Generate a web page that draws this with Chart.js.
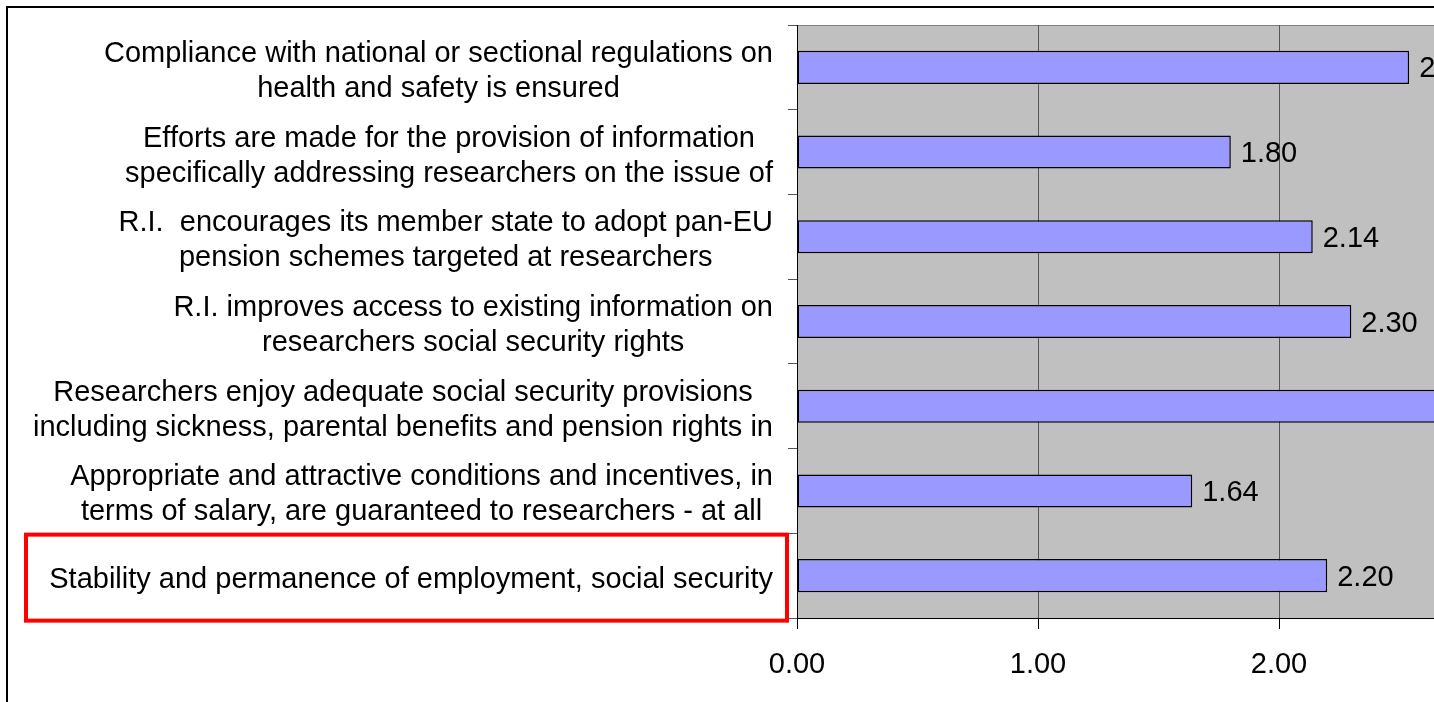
<!DOCTYPE html>
<html>
<head>
<meta charset="utf-8">
<script src="https://cdn.jsdelivr.net/npm/chart.js@4/dist/chart.umd.min.js"></script>
<style>
  body { margin: 0; background: #fff; overflow: hidden; }
  .frame { position: absolute; left: 6px; top: 6px; width: 1700px; height: 900px; border: 2px solid #000; }
  #barChart { position: absolute; left: 0; top: 0; }
</style>
</head>
<body>
<div class="frame"></div>
<canvas id="barChart" width="1600" height="702"></canvas>
<script>
//category labels, already wrapped into lines
const labels = [
  ["Compliance with national or sectional regulations on", "health and safety is ensured"],
  ["Efforts are made for the provision of information", "specifically addressing researchers on the issue of"],
  ["R.I.  encourages its member state to adopt pan-EU", "pension schemes targeted at researchers"],
  ["R.I. improves access to existing information on", "researchers social security rights"],
  ["Researchers enjoy adequate social security provisions", "including sickness, parental benefits and pension rights in"],
  ["Appropriate and attractive conditions and incentives, in", "terms of salary, are guaranteed to researchers - at all"],
  ["Stability and permanence of employment, social security"],
];

//average score per item
const values = [2.54, 1.80, 2.14, 2.30, 2.80, 1.64, 2.20];

//x axis ticks
const xTicks = [0, 1, 2, 3];

const fontFamily = "'Liberation Sans', Arial, sans-serif";

//grey plot area behind the bars
const plotBackground = {
  id: "plotBackground",
  beforeDraw(chart) {
    const { ctx, chartArea: a } = chart;
    ctx.save();
    ctx.fillStyle = "#c0c0c0";
    ctx.fillRect(a.left, a.top, a.right - a.left, a.bottom - a.top);
    ctx.strokeStyle = "#808080";
    ctx.lineWidth = 1;
    ctx.strokeRect(a.left + 0.5, a.top + 0.5, a.right - a.left, a.bottom - a.top);
    ctx.restore();
  },
};

//category labels: each block right aligned, lines centred inside it
const categoryLabels = {
  id: "categoryLabels",
  afterDraw(chart) {
    const { ctx } = chart;
    const y = chart.scales.y;
    const right = 773;
    const lineHeight = 35;
    ctx.save();
    ctx.font = "29px " + fontFamily;
    ctx.fillStyle = "#000";
    ctx.textAlign = "center";
    ctx.textBaseline = "middle";
    labels.forEach(function (lines, i) {
      let widest = 0;
      for (const line of lines) widest = Math.max(widest, ctx.measureText(line).width);
      const cx = right - widest / 2;
      const cy = y.getPixelForValue(i) + 4 - ((lines.length - 1) * lineHeight) / 2;
      lines.forEach(function (line, j) {
        ctx.fillText(line, cx, cy + j * lineHeight);
      });
    });
    ctx.restore();
  },
};

//value printed right of each bar
const valueLabels = {
  id: "valueLabels",
  afterDatasetsDraw(chart) {
    const { ctx } = chart;
    const meta = chart.getDatasetMeta(0);
    ctx.save();
    ctx.font = "29px " + fontFamily;
    ctx.fillStyle = "#000";
    ctx.textAlign = "left";
    ctx.textBaseline = "middle";
    meta.data.forEach(function (bar, i) {
      ctx.fillText(values[i].toFixed(2), bar.x + 10, bar.y + 2);
    });
    ctx.restore();
  },
};

//red frame round the last item
const highlight = {
  id: "highlight",
  afterDraw(chart) {
    const { ctx } = chart;
    const y = chart.scales.y;
    const mid = y.getPixelForValue(labels.length - 1);
    ctx.save();
    ctx.strokeStyle = "#ff0000";
    ctx.lineWidth = 4;
    ctx.strokeRect(26, mid - 41, 761, 86);
    ctx.restore();
  },
};

const bar = document.getElementById("barChart");
const barChart = new Chart(bar, {
  type: "bar",
  data: {
    labels: labels,
    datasets: [
      {
        data: values,
        backgroundColor: "#9999ff",
        borderColor: "#000",
        borderWidth: 1.5,
        borderSkipped: false,
        categoryPercentage: 1,
        barPercentage: 0.39,
      },
    ],
  },
  options: {
    indexAxis: "y",
    responsive: false,
    animation: false,
    devicePixelRatio: 1,
    layout: { padding: { top: 25, right: 80, bottom: 0, left: 0 } },
    plugins: {
      legend: { display: false },
      tooltip: { enabled: false },
    },
    scales: {
      x: {
        min: xTicks[0],
        max: xTicks[xTicks.length - 1],
        afterFit(scale) {
          scale.height = 84;
        },
        afterBuildTicks(scale) {
          scale.ticks = xTicks.map((v) => ({ value: v }));
        },
        grid: {
          color: "#555",
          tickColor: "#000",
          tickLength: 11,
        },
        border: { color: "#000", width: 1 },
        ticks: {
          padding: 19,
          color: "#000",
          font: { family: fontFamily, size: 29 },
          callback: (v) => Number(v).toFixed(2),
        },
      },
      y: {
        afterFit(scale) {
          scale.width = 797;
        },
        grid: {
          offset: true,
          drawOnChartArea: false,
          tickColor: "#555",
          tickLength: 9,
        },
        border: { color: "#000", width: 1 },
        ticks: {
          callback: () => "",
        },
      },
    },
  },
  plugins: [plotBackground, categoryLabels, valueLabels, highlight],
});
</script>
</body>
</html>
